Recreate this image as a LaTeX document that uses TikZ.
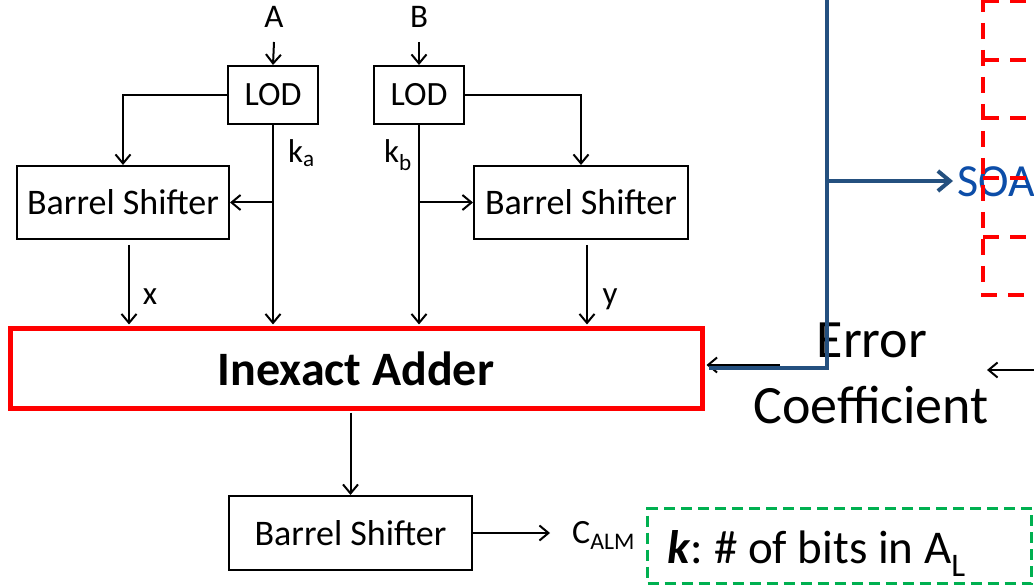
\documentclass[tikz,border=0pt]{standalone}
\usepackage{fontspec}
\setmainfont{Carlito}
\usetikzlibrary{arrows.meta}
\definecolor{lineblue}{HTML}{24507F}
\definecolor{soablue}{HTML}{0C4DA8}
\definecolor{dgreen}{HTML}{00B050}
\definecolor{pred}{HTML}{FF0000}
\frenchspacing
\begin{document}
\begin{tikzpicture}[x=1pt,y=-1pt,
  box/.style={draw, line width=2pt, inner sep=0pt, font=\fontsize{36}{43}\selectfont},
  lodbox/.style={box, font=\fontsize{34}{41}\selectfont, minimum width=90, minimum height=58},
  adderbox/.style={draw=pred, line width=5pt, inner sep=0pt, font=\fontsize{48}{58}\selectfont\bfseries},
  lbl/.style={inner sep=0pt, font=\fontsize{33}{40}\selectfont},
  arr/.style={line width=2pt, -{Straight Barb[length=9pt,width=15pt]}},
  barr/.style={line width=4pt, draw=lineblue, -{Straight Barb[length=12pt,width=20pt]}},
  rdash/.style={draw=pred, line width=4pt, dash pattern=on 16pt off 11pt},
  gbox/.style={draw=dgreen, line width=3pt, dash pattern=on 11pt off 6pt}
]
\useasboundingbox (0,0) rectangle (1034,585);
\clip (0,0) rectangle (1034,585);

% boxes
\node[lodbox] (lodA) at (273,95) {LOD};
\node[lodbox] (lodB) at (419,95) {LOD};
\node[box, minimum width=212, minimum height=73] (bsA) at (123,202.5) {Barrel Shifter};
\node[box, minimum width=214, minimum height=73] (bsB) at (581,202.5) {Barrel Shifter};
\node[adderbox, minimum width=692, minimum height=79] (add) at (356,368.5) {Inexact Adder};
\node[box, minimum width=243, minimum height=74] (bsC) at (350.5,533) {Barrel Shifter};

% labels
\node[lbl, anchor=base] (A) at (274,28) {A};
\node[lbl, anchor=base] (B) at (419,28) {B};
\node[lbl, anchor=base west] (ka) at (288,163) {k\textsubscript{a}};
\node[lbl, anchor=base east] (kb) at (412,163) {k\textsubscript{b}};
\node[lbl, anchor=base] (xl) at (150,305) {x};
\node[lbl, anchor=base] (yl) at (610,305) {y};
\node[inner sep=0pt, anchor=base west, font=\fontsize{34}{41}\selectfont] (calm) at (572,543) {C\textsubscript{ALM}};
\node[inner sep=0pt, anchor=base west, text=soablue, font=\fontsize{46}{55}\selectfont] (soa) at (957,197) {SOA};
\node[inner sep=0pt, anchor=base, font=\fontsize{54}{65}\selectfont] (err1) at (872,358) {Error};
\node[inner sep=0pt, anchor=base, font=\fontsize{54}{65}\selectfont] (err2) at (871,423) {Coefficient};

% green note
\node[gbox, anchor=north west, minimum width=384, minimum height=75, inner xsep=20pt, inner ysep=0pt,
      text width=344, align=flush left, text height=40pt, text depth=5pt,
      font=\fontsize{47}{56}\selectfont] (note) at (646,507)
      {\textbf{\textit{k}}: \# of bits in A\textsubscript{L}};

% red dashed (partial table at right)
\draw[rdash] (983,1) -- (1034,1);
\draw[rdash] (983,60) -- (1034,60);
\draw[rdash] (983,118) -- (1034,118);
\draw[rdash] (983,178) -- (1034,178);
\draw[rdash] (983,237) -- (1034,237);
\draw[rdash] (983,-4) -- (983,295) -- (1034,295);

% inputs
\coordinate (Ain) at (274,42);
\coordinate (Bin) at (419,42);
\draw[arr] (Ain) -- (lodA.north);
\draw[arr] (Bin) -- (lodB.north);

% LOD -> barrel shifters
\draw[arr] (lodA.west) -| (bsA.north);
\draw[arr] (lodB.east) -| (bsB.north);

% k lines
\draw[arr, shorten >=2pt] (lodA.south) -- (lodA.south |- add.north);
\draw[arr] (lodA.south |- bsA.east) -- (bsA.east);
\draw[arr, shorten >=2pt] (lodB.south) -- (lodB.south |- add.north);
\draw[arr] (lodB.south |- bsB.west) -- (bsB.west);

% x, y
\coordinate (xs) at (129,245);
\coordinate (ys) at (587,245);
\draw[arr, shorten >=2pt] (xs) -- (xs |- add.north);
\draw[arr, shorten >=2pt] (ys) -- (ys |- add.north);

% adder -> bottom shifter -> C_ALM
\draw[arr, shorten <=2pt] (bsC.north |- add.south) -- (bsC.north);
\draw[arr, shorten >=22pt] (bsC.east) -- (bsC.east -| calm.west);

% error coefficient arrows
\coordinate (ecin) at (780,365);
\draw[arr, shorten >=2pt] (ecin) -- (ecin -| add.east);
\coordinate (ecr) at (1040,370);
\coordinate (ectip) at (987,370);
\draw[arr] (ecr) -- (ectip);

% blue line
\coordinate (btop) at (827,-5);
\coordinate (bsplit) at (827,181);
\coordinate (bcorner) at (827,368);
\draw[line width=4pt, lineblue] (btop) -- (bcorner) -- ([xshift=4pt]bcorner -| add.east);
\draw[barr, shorten >=4pt] (bsplit) -- (bsplit -| soa.west);
\end{tikzpicture}
\end{document}
